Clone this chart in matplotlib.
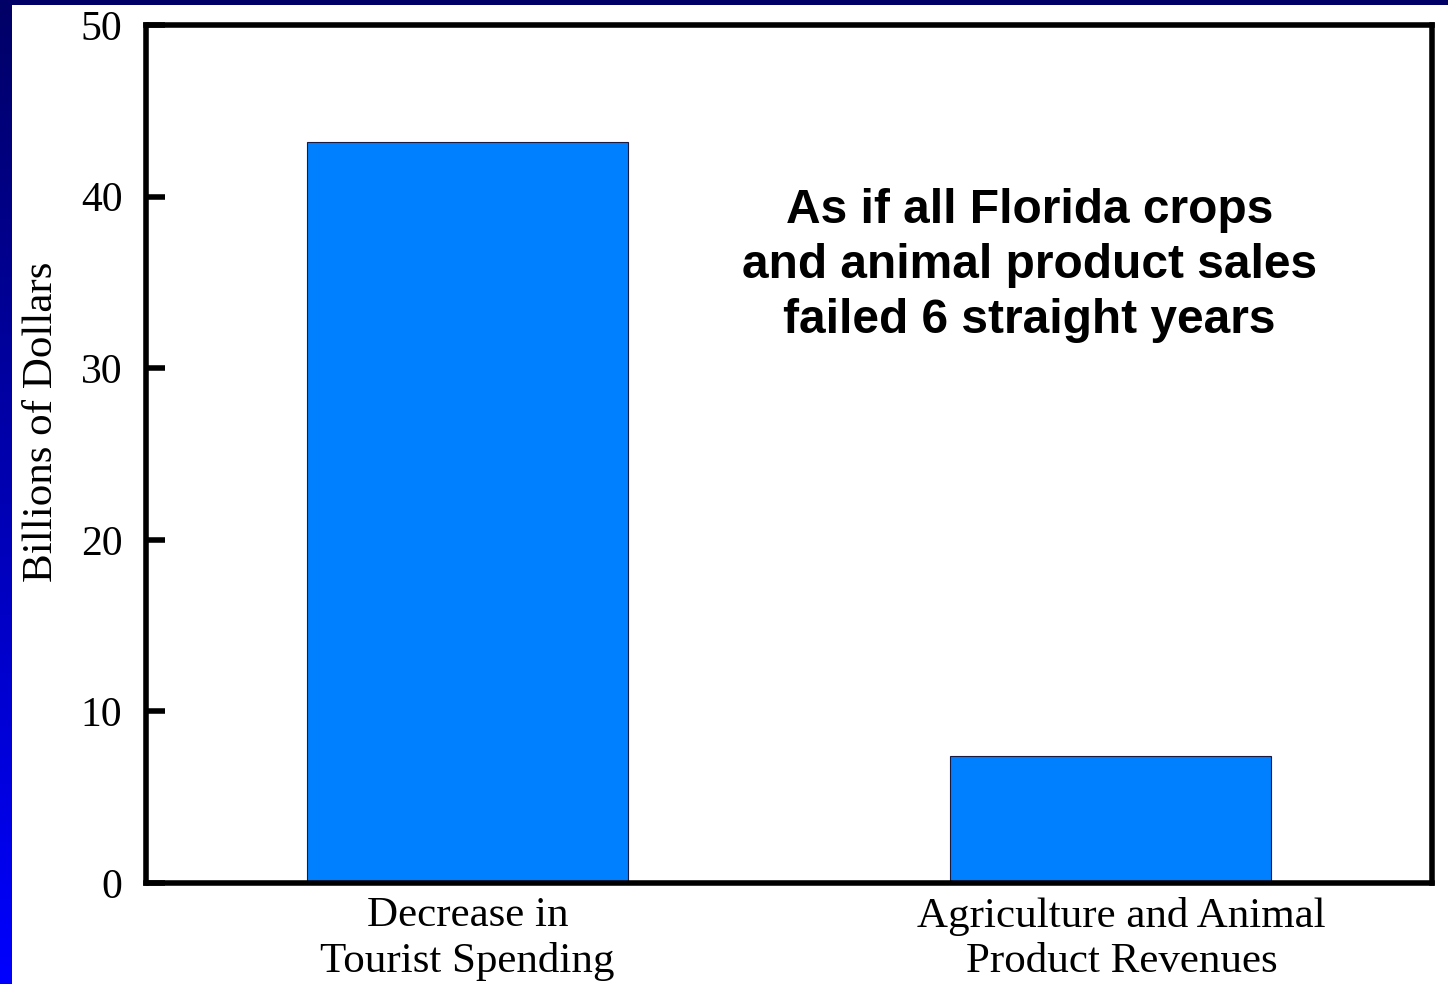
import numpy as np
import matplotlib
matplotlib.use("Agg")
import matplotlib.pyplot as plt
import matplotlib.transforms as mtransforms

# data
categories = ["Decrease in\nTourist Spending", "Agriculture and Animal\nProduct Revenues"]
values = [43.2, 7.4]
yticks = [0, 10, 20, 30, 40, 50]

W, H = 1448, 984
fig = plt.figure(figsize=(W / 100, H / 100), dpi=100)
fig.patch.set_facecolor("white")

# blue slide frame: top strip and left gradient strip
top = fig.add_axes([0, 1 - 5 / H, 1, 5 / H])
top.set_facecolor("#000066")
top.set_xticks([]); top.set_yticks([])
for s in top.spines.values():
    s.set_visible(False)

left = fig.add_axes([0, 0, 12 / W, 1])
grad = np.linspace(0, 1, 256).reshape(-1, 1)
cmap = matplotlib.colors.LinearSegmentedColormap.from_list("slide", ["#000066", "#0000ff"])
left.imshow(grad, aspect="auto", cmap=cmap, origin="upper")
left.set_axis_off()

ax = fig.add_axes([146 / W, 1 - 883 / H, (1432 - 146) / W, (883 - 25) / H])
x = np.arange(len(categories))
ax.bar(x, values, width=0.5, color="#0080ff", edgecolor="#1a1a40", linewidth=0.8)

ax.set_xlim(-0.5, 1.5)
ax.set_ylim(0, 50)
ax.set_yticks(yticks)
ax.set_xticks(x)
ax.set_xticklabels(categories, family="Liberation Serif", fontsize=31, linespacing=1.22)
ax.set_yticklabels([str(t) for t in yticks], family="Liberation Serif", fontsize=30)
ax.tick_params(axis="y", direction="in", length=14, width=4, pad=17)
ax.tick_params(axis="x", length=0, pad=10)
for s in ax.spines.values():
    s.set_linewidth(4)

# second category label sits a little right of its bar in the original
lbl = ax.get_xticklabels()[1]
lbl.set_transform(lbl.get_transform() + mtransforms.ScaledTranslation(11 / 100, 0, fig.dpi_scale_trans))

ax.set_ylabel("Billions of Dollars", family="Liberation Serif", fontsize=31)
ax.yaxis.set_label_coords(-0.066, 0.537)

ax.text(0.687, 0.72, "As if all Florida crops\nand animal product sales\nfailed 6 straight years",
        transform=ax.transAxes, ha="center", va="center", family="Liberation Sans",
        fontweight="bold", fontsize=34.5, linespacing=1.28)

fig.savefig("out.png", dpi=100)
